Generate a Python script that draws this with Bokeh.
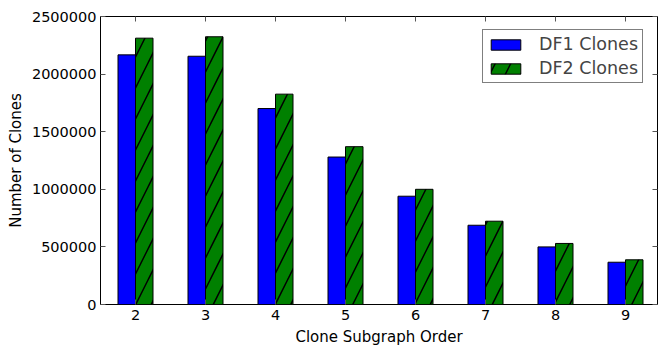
from bokeh.plotting import figure
from bokeh.models import (ColumnDataSource, Range1d, FixedTicker, BasicTickFormatter,
                          LinearAxis, Legend, LegendItem)
from bokeh.embed import file_html
from bokeh.resources import INLINE

orders = [2, 3, 4, 5, 6, 7, 8, 9]
df1_clones = [2167000, 2155000, 1701000, 1280000, 940000, 688000, 500000, 367000]
df2_clones = [2312000, 2324000, 1826000, 1370000, 1000000, 723000, 530000, 388000]
y_ticks = [0, 500000, 1000000, 1500000, 2000000, 2500000]

FONT = "DejaVu Sans"
bar_w = 0.25

src = ColumnDataSource(dict(
    x1=[o - bar_w / 2 for o in orders],
    x2=[o + bar_w / 2 for o in orders],
    df1=df1_clones,
    df2=df2_clones,
))

p = figure(width=666, height=353, output_backend="svg", toolbar_location=None,
           x_range=Range1d(1.5, 9.457), y_range=Range1d(0, 2500000),
           min_border_left=100, min_border_right=9, min_border_top=16, min_border_bottom=49,
           x_axis_label="Clone Subgraph Order", y_axis_label="Number of Clones")
p.xgrid.visible = False
p.ygrid.visible = False
p.outline_line_color = "black"
p.outline_line_width = 1
p.background_fill_color = "white"
p.border_fill_color = "white"

r1 = p.vbar(x="x1", top="df1", width=bar_w, source=src, fill_color="#0000ff",
            line_color="black", line_width=1)
r2 = p.vbar(x="x2", top="df2", width=bar_w, source=src, fill_color="#008000",
            line_color="black", line_width=1, hatch_pattern="/", hatch_color="black",
            hatch_scale=31, hatch_weight=1.5)

xax = p.xaxis[0]
yax = p.yaxis[0]
xax.ticker = FixedTicker(ticks=orders)
yax.ticker = FixedTicker(ticks=y_ticks)
yax.formatter = BasicTickFormatter(use_scientific=False)

top_ax = LinearAxis(ticker=FixedTicker(ticks=orders),
                    major_label_overrides={o: "" for o in orders})
right_ax = LinearAxis(ticker=FixedTicker(ticks=y_ticks),
                      major_label_overrides={t: "" for t in y_ticks})
p.add_layout(top_ax, "above")
p.add_layout(right_ax, "right")

for ax in [xax, yax, top_ax, right_ax]:
    ax.axis_line_color = None
    ax.major_tick_in = 5
    ax.major_tick_out = 0
    ax.major_tick_line_color = "#555555"
    ax.minor_tick_line_color = None
    ax.major_label_text_font = FONT
    ax.major_label_text_color = "black"
for ax in [top_ax, right_ax]:
    ax.major_label_standoff = 0
for ax in [xax, yax]:
    ax.major_label_text_font_size = "14.5px"
    ax.axis_label_text_font = FONT
    ax.axis_label_text_font_style = "normal"
    ax.axis_label_text_font_size = "15px"
    ax.axis_label_text_color = "black"
xax.major_label_standoff = 5
yax.major_label_standoff = 4
xax.axis_label_standoff = 5
yax.axis_label_standoff = 4

legend = Legend(items=[LegendItem(label="DF1 Clones", renderers=[r1]),
                       LegendItem(label="DF2 Clones", renderers=[r2])],
                location=(382, 221))
legend.label_text_font = FONT
legend.label_text_font_size = "17.5px"
legend.glyph_width = 37
legend.glyph_height = 13
legend.label_standoff = 15
legend.spacing = 4
legend.padding = 4
legend.margin = 0
legend.border_line_color = "black"
legend.border_line_width = 1
legend.background_fill_alpha = 1
p.add_layout(legend, "center")

open("out.html", "w").write(file_html(p, INLINE))
